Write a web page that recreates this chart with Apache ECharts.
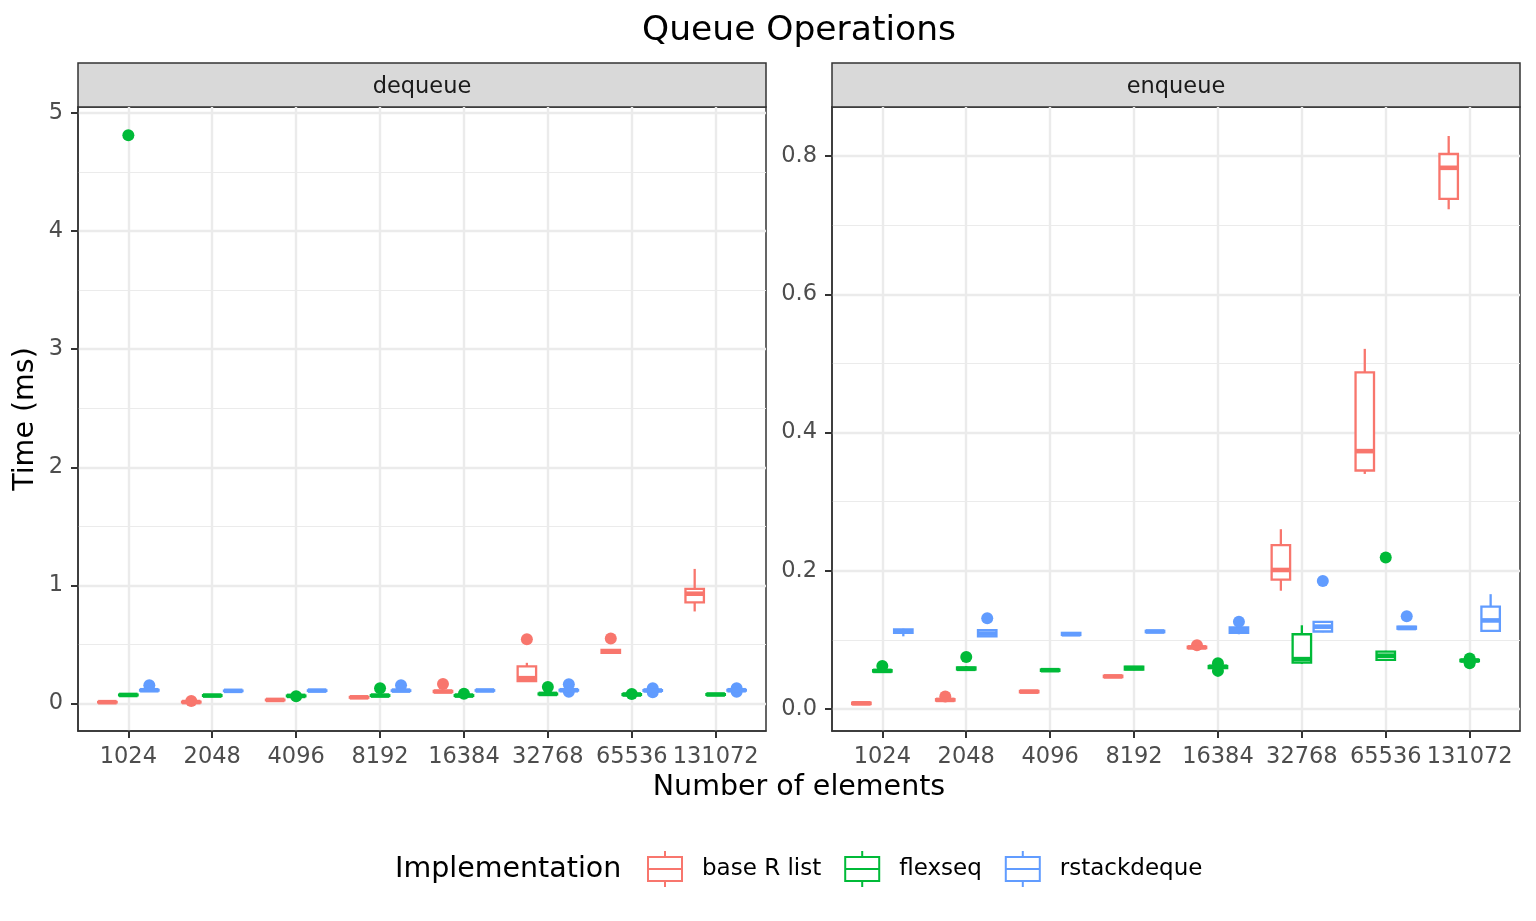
<!DOCTYPE html>
<html>
<head>
<meta charset="utf-8">
<script src="https://cdn.jsdelivr.net/npm/echarts@6/dist/echarts.min.js"></script>
<style>
html, body { margin: 0; padding: 0; background: #ffffff; }
#chart { width: 1536px; height: 921px; }
</style>
</head>
<body>
<div id="chart"></div>
<script>
// ---------- data ----------
const categories = ['1024', '2048', '4096', '8192', '16384', '32768', '65536', '131072'];
const implementations = ['base R list', 'flexseq', 'rstackdeque'];
const palette = ['#F8766D', '#00BA38', '#619CFF'];
const panelNames = ['dequeue', 'enqueue'];

const dequeueTicks = [0, 1, 2, 3, 4, 5];
const dequeueMinorTicks = [0.5, 1.5, 2.5, 3.5, 4.5];
const enqueueTicks = [0, 0.2, 0.4, 0.6, 0.8];
const enqueueMinorTicks = [0.1, 0.3, 0.5, 0.7];

// five-number summaries [min, q1, median, q3, max], one per category
const dequeueBaseR = [
  [0.008, 0.010, 0.012, 0.014, 0.016],
  [0.008, 0.010, 0.013, 0.016, 0.018],
  [0.026, 0.028, 0.031, 0.033, 0.036],
  [0.048, 0.050, 0.053, 0.056, 0.058],
  [0.095, 0.098, 0.102, 0.107, 0.110],
  [0.185, 0.190, 0.215, 0.315, 0.345],
  [0.420, 0.430, 0.440, 0.455, 0.460],
  [0.780, 0.856, 0.930, 0.971, 1.140]
];
const dequeueFlexseq = [
  [0.068, 0.070, 0.073, 0.076, 0.078],
  [0.063, 0.065, 0.068, 0.071, 0.073],
  [0.060, 0.062, 0.065, 0.068, 0.070],
  [0.063, 0.065, 0.068, 0.071, 0.073],
  [0.063, 0.065, 0.068, 0.071, 0.073],
  [0.075, 0.078, 0.082, 0.085, 0.088],
  [0.070, 0.073, 0.077, 0.080, 0.083],
  [0.072, 0.074, 0.077, 0.080, 0.082]
];
const dequeueRstack = [
  [0.108, 0.110, 0.113, 0.116, 0.118],
  [0.104, 0.106, 0.108, 0.110, 0.112],
  [0.106, 0.108, 0.110, 0.112, 0.114],
  [0.106, 0.108, 0.110, 0.112, 0.114],
  [0.107, 0.109, 0.111, 0.113, 0.115],
  [0.108, 0.110, 0.113, 0.116, 0.118],
  [0.106, 0.108, 0.111, 0.114, 0.116],
  [0.108, 0.110, 0.113, 0.116, 0.118]
];
const enqueueBaseR = [
  [0.006, 0.007, 0.008, 0.009, 0.010],
  [0.011, 0.012, 0.013, 0.014, 0.015],
  [0.023, 0.024, 0.025, 0.026, 0.027],
  [0.045, 0.046, 0.047, 0.048, 0.049],
  [0.087, 0.088, 0.089, 0.090, 0.091],
  [0.171, 0.187, 0.201, 0.237, 0.260],
  [0.340, 0.345, 0.373, 0.487, 0.521],
  [0.723, 0.738, 0.783, 0.803, 0.829]
];
const enqueueFlexseq = [
  [0.053, 0.054, 0.055, 0.056, 0.057],
  [0.055, 0.057, 0.058, 0.060, 0.062],
  [0.054, 0.055, 0.056, 0.057, 0.058],
  [0.056, 0.057, 0.059, 0.061, 0.062],
  [0.058, 0.059, 0.061, 0.062, 0.063],
  [0.065, 0.067, 0.072, 0.108, 0.121],
  [0.070, 0.071, 0.077, 0.083, 0.084],
  [0.068, 0.069, 0.070, 0.071, 0.072]
];
const enqueueRstack = [
  [0.105, 0.110, 0.112, 0.115, 0.116],
  [0.104, 0.105, 0.109, 0.114, 0.115],
  [0.106, 0.107, 0.108, 0.110, 0.111],
  [0.110, 0.111, 0.112, 0.113, 0.114],
  [0.108, 0.110, 0.114, 0.118, 0.119],
  [0.111, 0.112, 0.119, 0.126, 0.127],
  [0.115, 0.116, 0.117, 0.119, 0.120],
  [0.112, 0.113, 0.128, 0.148, 0.166]
];

// outliers [category, value]
const dequeueBaseROut = [['2048', 0.022], ['16384', 0.165], ['32768', 0.545], ['65536', 0.550]];
const dequeueFlexseqOut = [['1024', 4.81], ['4096', 0.062], ['8192', 0.130], ['16384', 0.083], ['32768', 0.140], ['65536', 0.082]];
const dequeueRstackOut = [['1024', 0.155], ['8192', 0.155], ['32768', 0.163], ['32768', 0.100], ['65536', 0.130], ['65536', 0.095], ['131072', 0.130], ['131072', 0.100]];
const enqueueBaseROut = [['2048', 0.018], ['16384', 0.092]];
const enqueueFlexseqOut = [['1024', 0.062], ['2048', 0.075], ['16384', 0.066], ['16384', 0.055], ['65536', 0.219], ['131072', 0.073], ['131072', 0.066]];
const enqueueRstackOut = [['2048', 0.131], ['16384', 0.126], ['32768', 0.185], ['65536', 0.134]];

// ---------- build ----------
const FONT = 'DejaVu Sans';
const DODGE = 0.25;
const BOX_W = 0.22;
const LW = 2.3;
const TICK_LEN = 7;
const GRID_W = 688, GRID_H = 624, GRID_TOP = 107;
const gridLefts = [78, 832];
const X_MIN = -0.6, X_MAX = 7.6;

const panels = [
  { yMin: -0.232, yMax: 5.05, ticks: dequeueTicks, minor: dequeueMinorTicks, fmt: v => String(Math.round(v)),
    boxes: [dequeueBaseR, dequeueFlexseq, dequeueRstack], outs: [dequeueBaseROut, dequeueFlexseqOut, dequeueRstackOut] },
  { yMin: -0.032, yMax: 0.871, ticks: enqueueTicks, minor: enqueueMinorTicks, fmt: v => v.toFixed(1),
    boxes: [enqueueBaseR, enqueueFlexseq, enqueueRstack], outs: [enqueueBaseROut, enqueueFlexseqOut, enqueueRstackOut] }
];

function boxRenderer(offset, color) {
  return function (params, api) {
    const c = api.value(0) + offset;
    const pMin = api.coord([c, api.value(1)]);
    const pQ1 = api.coord([c, api.value(2)]);
    const pMed = api.coord([c, api.value(3)]);
    const pQ3 = api.coord([c, api.value(4)]);
    const pMax = api.coord([c, api.value(5)]);
    const w = api.size([BOX_W, 0])[0];
    const cx = pQ1[0];
    const x0 = cx - w / 2;
    return {
      type: 'group',
      children: [
        { type: 'line', shape: { x1: cx, y1: pMin[1], x2: cx, y2: pQ1[1] }, style: { stroke: color, lineWidth: LW } },
        { type: 'line', shape: { x1: cx, y1: pQ3[1], x2: cx, y2: pMax[1] }, style: { stroke: color, lineWidth: LW } },
        { type: 'rect', shape: { x: x0, y: pQ3[1], width: w, height: pQ1[1] - pQ3[1] }, style: { fill: '#ffffff', stroke: color, lineWidth: LW } },
        { type: 'line', shape: { x1: x0, y1: pMed[1], x2: x0 + w, y2: pMed[1] }, style: { stroke: color, lineWidth: LW * 2 } }
      ]
    };
  };
}

const grids = gridLefts.map(l => ({
  left: l, top: GRID_TOP, width: GRID_W, height: GRID_H,
  show: true, borderColor: '#333333', borderWidth: 1.5
}));

const catIdx = categories.map((c, i) => i);
const xAxes = [0, 1].map(g => ({
  gridIndex: g, type: 'value', min: X_MIN, max: X_MAX, position: 'bottom',
  axisLine: { show: true, onZero: false, lineStyle: { color: '#333333', width: 1.5 } },
  axisTick: { show: true, length: TICK_LEN, customValues: catIdx, lineStyle: { color: '#333333', width: 2 } },
  axisLabel: { customValues: catIdx, formatter: v => categories[Math.round(v)], color: '#4d4d4d', fontSize: 22.5, fontFamily: FONT, margin: 15, lineHeight: 22.5 },
  splitLine: { show: true, lineStyle: { color: '#ebebeb', width: 2.4 } }
}));

const yAxes = [];
panels.forEach((p, g) => {
  yAxes.push({
    gridIndex: g, type: 'value', min: p.yMin, max: p.yMax, position: 'left',
    axisLine: { show: true, onZero: false, lineStyle: { color: '#333333', width: 1.5 } },
    axisTick: { show: true, length: TICK_LEN, customValues: p.ticks, lineStyle: { color: '#333333', width: 2 } },
    axisLabel: { customValues: p.ticks, formatter: p.fmt, color: '#4d4d4d', fontSize: 22.5, fontFamily: FONT, margin: 15 },
    splitLine: { show: true, lineStyle: { color: '#ebebeb', width: 2.4 } }
  });
  yAxes.push({
    gridIndex: g, type: 'value', min: p.yMin, max: p.yMax, position: 'right',
    axisLine: { show: false, onZero: false },
    axisTick: { show: false, customValues: p.minor },
    axisLabel: { show: false, customValues: p.minor },
    splitLine: { show: true, lineStyle: { color: '#ebebeb', width: 1.2 } }
  });
});

const series = [];
panels.forEach((p, g) => {
  implementations.forEach((name, i) => {
    const offset = (i - 1) * DODGE;
    series.push({
      type: 'custom', name: name, xAxisIndex: g, yAxisIndex: g * 2, z: 3,
      itemStyle: { color: palette[i] },
      renderItem: boxRenderer(offset, palette[i]),
      encode: { x: 0, y: [1, 2, 3, 4, 5] },
      data: p.boxes[i].map((s, k) => [k].concat(s))
    });
    series.push({
      type: 'scatter', name: name, xAxisIndex: g, yAxisIndex: g * 2, z: 2,
      symbol: 'circle', symbolSize: 12, itemStyle: { color: palette[i], opacity: 1 },
      data: p.outs[i].map(o => [categories.indexOf(o[0]) + offset, o[1]])
    });
  });
});

const legendIcon = 'path://M17 0L19 0L19 6L17 6Z M0 5L36 5L36 31L0 31Z M2 7L2 17L34 17L34 7Z M2 19L2 29L34 29L34 19Z M17 30L19 30L19 36L17 36Z';

const graphic = [];
panelNames.forEach((n, g) => {
  graphic.push({ type: 'rect', shape: { x: gridLefts[g], y: 63, width: GRID_W, height: 44 }, style: { fill: '#d9d9d9', stroke: '#333333', lineWidth: 1.5 } });
  graphic.push({ type: 'text', x: gridLefts[g] + GRID_W / 2, y: 87, style: { text: n, fill: '#1a1a1a', font: '22.5px "DejaVu Sans"', align: 'center', verticalAlign: 'middle' } });
});
graphic.push({ type: 'text', x: 799, y: 31, style: { text: 'Queue Operations', fill: '#000000', font: '34.5px "DejaVu Sans"', align: 'center', verticalAlign: 'middle' } });
graphic.push({ type: 'text', x: 799, y: 788, style: { text: 'Number of elements', fill: '#000000', font: '28.5px "DejaVu Sans"', align: 'center', verticalAlign: 'middle' } });
graphic.push({ type: 'text', x: 26, y: 419, rotation: Math.PI / 2, style: { text: 'Time (ms)', fill: '#000000', font: '28.5px "DejaVu Sans"', align: 'center', verticalAlign: 'middle' } });
graphic.push({ type: 'text', x: 395, y: 870, style: { text: 'Implementation', fill: '#000000', font: '28.5px "DejaVu Sans"', align: 'left', verticalAlign: 'middle' } });

const option = {
  animation: false,
  color: palette,
  textStyle: { fontFamily: FONT },
  grid: grids,
  xAxis: xAxes,
  yAxis: yAxes,
  legend: {
    left: 647, top: 851, orient: 'horizontal', selectedMode: false, padding: 0,
    itemWidth: 36, itemHeight: 36, itemGap: 23,
    data: implementations.map(n => ({ name: n, icon: legendIcon })),
    textStyle: { fontSize: 23, fontFamily: FONT, color: '#000000', padding: [0, 0, 0, 14] }
  },
  graphic: graphic,
  series: series
};

const chart = echarts.init(document.getElementById('chart'), null, { renderer: 'canvas' });
chart.setOption(option);
</script>
</body>
</html>
